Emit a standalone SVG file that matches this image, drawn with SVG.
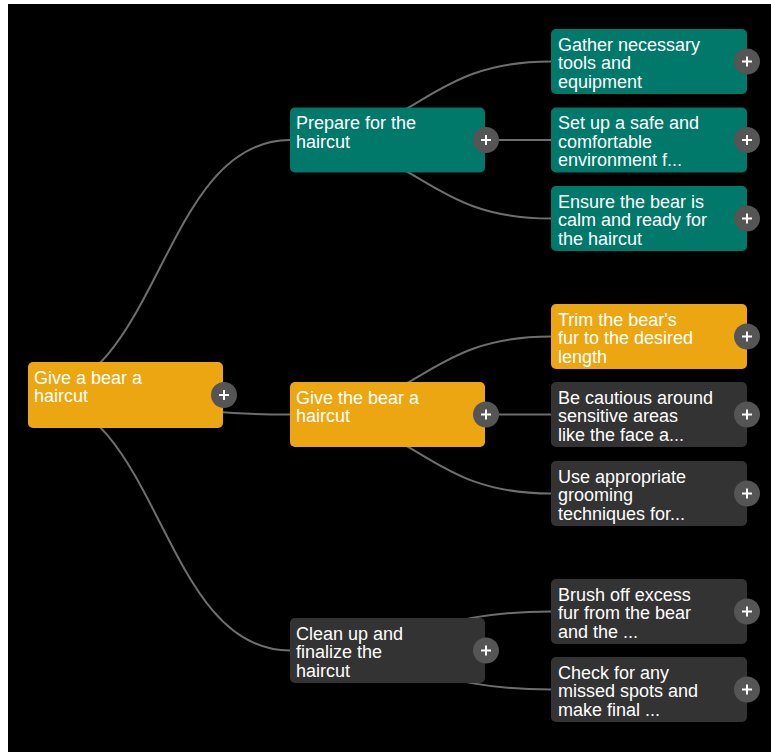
<svg xmlns="http://www.w3.org/2000/svg" width="771" height="752" viewBox="0 0 771 752">
<style>
.teal{fill:#00796b}
.orange{fill:#eca612}
.dark{fill:#333333}
.t{font-family:"Liberation Sans",Arial,sans-serif;font-size:18px;fill:#ffffff}
.btn{fill:#555555}
.plus{stroke:#ffffff;stroke-width:2;fill:none}
.line{fill:none;stroke:#6e6e6e;stroke-width:2}
</style>
<defs>
<g id="plus"><circle class="btn" cx="0" cy="0" r="13"/><path class="plus" d="M-5 0H5M0 -5V5"/></g>
</defs>
<rect x="0" y="0" width="771" height="752" fill="#ffffff"/>
<rect x="8" y="4" width="763" height="748" fill="#000000"/>
<g id="connectors">
<path class="line" d="M30 395C160 395 160 140 290 140"/>
<path class="line" d="M30 395C160 395 160 414.5 290 414.5"/>
<path class="line" d="M30 395C160 395 160 650.5 290 650.5"/>
<path class="line" d="M290 140C420 140 420 61.5 551 61.5"/>
<path class="line" d="M290 140C420 140 420 140 551 140"/>
<path class="line" d="M290 140C420 140 420 218.5 551 218.5"/>
<path class="line" d="M290 414.5C420 414.5 420 336.5 551 336.5"/>
<path class="line" d="M290 414.5C420 414.5 420 414.5 551 414.5"/>
<path class="line" d="M290 414.5C420 414.5 420 493.5 551 493.5"/>
<path class="line" d="M290 650.5C420 650.5 420 611.5 551 611.5"/>
<path class="line" d="M290 650.5C420 650.5 420 689.5 551 689.5"/>
</g>
<g id="root">
<rect class="orange" x="28" y="362" width="195" height="66" rx="5"/>
<text class="t" x="34" y="383.5">Give a bear a</text>
<text class="t" x="34" y="402">haircut</text>
<use href="#plus" x="224" y="395"/>
</g>
<g id="prepare">
<rect class="teal" x="290" y="107.5" width="195" height="65" rx="5"/>
<text class="t" x="296" y="129">Prepare for the</text>
<text class="t" x="296" y="147.5">haircut</text>
<use href="#plus" x="486" y="140"/>
</g>
<g id="givebear">
<rect class="orange" x="290" y="382" width="195" height="65" rx="5"/>
<text class="t" x="296" y="403.5">Give the bear a</text>
<text class="t" x="296" y="422">haircut</text>
<use href="#plus" x="486" y="414.5"/>
</g>
<g id="cleanup">
<rect class="dark" x="290" y="618" width="195" height="65" rx="5"/>
<text class="t" x="296" y="639.5">Clean up and</text>
<text class="t" x="296" y="658">finalize the</text>
<text class="t" x="296" y="676.5">haircut</text>
<use href="#plus" x="486" y="650.5"/>
</g>
<g id="gather">
<rect class="teal" x="551" y="29" width="196" height="65" rx="5"/>
<text class="t" x="558" y="50.5">Gather necessary</text>
<text class="t" x="558" y="69">tools and</text>
<text class="t" x="558" y="87.5">equipment</text>
<use href="#plus" x="747" y="61.5"/>
</g>
<g id="setup">
<rect class="teal" x="551" y="107.5" width="196" height="65" rx="5"/>
<text class="t" x="558" y="129">Set up a safe and</text>
<text class="t" x="558" y="147.5">comfortable</text>
<text class="t" x="558" y="166">environment f...</text>
<use href="#plus" x="747" y="140"/>
</g>
<g id="ensure">
<rect class="teal" x="551" y="186" width="196" height="65" rx="5"/>
<text class="t" x="558" y="207.5">Ensure the bear is</text>
<text class="t" x="558" y="226">calm and ready for</text>
<text class="t" x="558" y="244.5">the haircut</text>
<use href="#plus" x="747" y="218.5"/>
</g>
<g id="trim">
<rect class="orange" x="551" y="304" width="196" height="65" rx="5"/>
<text class="t" x="558" y="325.5">Trim the bear's</text>
<text class="t" x="558" y="344">fur to the desired</text>
<text class="t" x="558" y="362.5">length</text>
<use href="#plus" x="747" y="336.5"/>
</g>
<g id="cautious">
<rect class="dark" x="551" y="382" width="196" height="65" rx="5"/>
<text class="t" x="558" y="403.5">Be cautious around</text>
<text class="t" x="558" y="422">sensitive areas</text>
<text class="t" x="558" y="440.5">like the face a...</text>
<use href="#plus" x="747" y="414.5"/>
</g>
<g id="use">
<rect class="dark" x="551" y="461" width="196" height="65" rx="5"/>
<text class="t" x="558" y="482.5">Use appropriate</text>
<text class="t" x="558" y="501">grooming</text>
<text class="t" x="558" y="519.5">techniques for...</text>
<use href="#plus" x="747" y="493.5"/>
</g>
<g id="brush">
<rect class="dark" x="551" y="579" width="196" height="65" rx="5"/>
<text class="t" x="558" y="600.5">Brush off excess</text>
<text class="t" x="558" y="619">fur from the bear</text>
<text class="t" x="558" y="637.5">and the ...</text>
<use href="#plus" x="747" y="611.5"/>
</g>
<g id="check">
<rect class="dark" x="551" y="657" width="196" height="65" rx="5"/>
<text class="t" x="558" y="678.5">Check for any</text>
<text class="t" x="558" y="697">missed spots and</text>
<text class="t" x="558" y="715.5">make final ...</text>
<use href="#plus" x="747" y="689.5"/>
</g>
</svg>
